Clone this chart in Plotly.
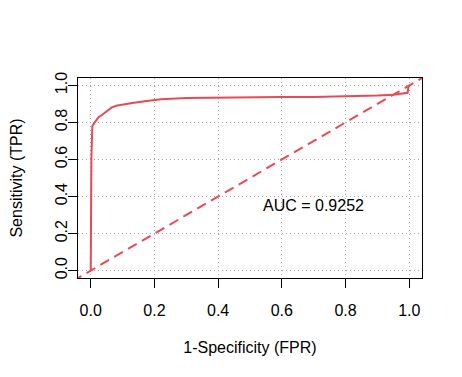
import plotly.graph_objects as go

# ROC curve points
fpr = [0, 0, 0.002, 0.004, 0.005, 0.008, 0.014, 0.02, 0.025, 0.035, 0.045, 0.055,
       0.065, 0.08, 0.1, 0.13, 0.17, 0.22, 0.3, 0.4, 0.5, 0.6, 0.7, 0.8, 0.9,
       0.95, 0.98, 0.995, 0.997, 1.0]
tpr = [0, 0.45, 0.6, 0.72, 0.78, 0.79, 0.805, 0.82, 0.83, 0.84, 0.855, 0.87,
       0.88, 0.89, 0.897, 0.905, 0.915, 0.925, 0.932, 0.935, 0.936, 0.937, 0.938,
       0.94, 0.945, 0.95, 0.955, 0.96, 0.99, 1.0]
diag = [-0.1, 1.1]
auc_label = "AUC = 0.9252"
ticks = [0, 0.2, 0.4, 0.6, 0.8, 1.0]
tick_text = ["0.0", "0.2", "0.4", "0.6", "0.8", "1.0"]

red = "#E84A55"
font = "Liberation Sans, Arial, Helvetica, sans-serif"

fig = go.Figure()
fig.add_trace(go.Scatter(x=fpr, y=tpr, mode="lines", line=dict(color=red, width=2),
                         hoverinfo="skip"))
fig.add_trace(go.Scatter(x=diag, y=diag, mode="lines",
                         line=dict(color=red, width=2, dash="10px,6px"), hoverinfo="skip"))
fig.add_annotation(x=0.7, y=0.35, text=auc_label, showarrow=False,
                   font=dict(size=16, color="black", family=font))

axis_common = dict(
    range=[-0.04, 1.04], tickvals=ticks, ticktext=tick_text, automargin=False,
    showgrid=True, gridcolor="#A8A8A8", griddash="1px,3px", gridwidth=1,
    zeroline=False, showline=True, linecolor="black", linewidth=1, mirror=True,
    ticks="outside", ticklen=9, tickcolor="black", tickwidth=1,
    tickfont=dict(size=16, color="black", family=font),
    title_font=dict(size=16, color="black", family=font),
)
fig.update_xaxes(**axis_common, title_text="1-Specificity (FPR)", title_standoff=23,
                 ticklabelstandoff=9)
fig.update_yaxes(**axis_common, title_text="Sensitivity (TPR)", tickangle=-90,
                 title_standoff=29, ticklabelstandoff=-5)
# page body has an 8px margin, so the figure is made 8px smaller and shifted
fig.update_layout(
    width=454, height=369, showlegend=False,
    plot_bgcolor="white", paper_bgcolor="white",
    margin=dict(l=70, r=40, t=70, b=99),
    font=dict(family=font, color="black"),
)
fig.write_html("out.html")
